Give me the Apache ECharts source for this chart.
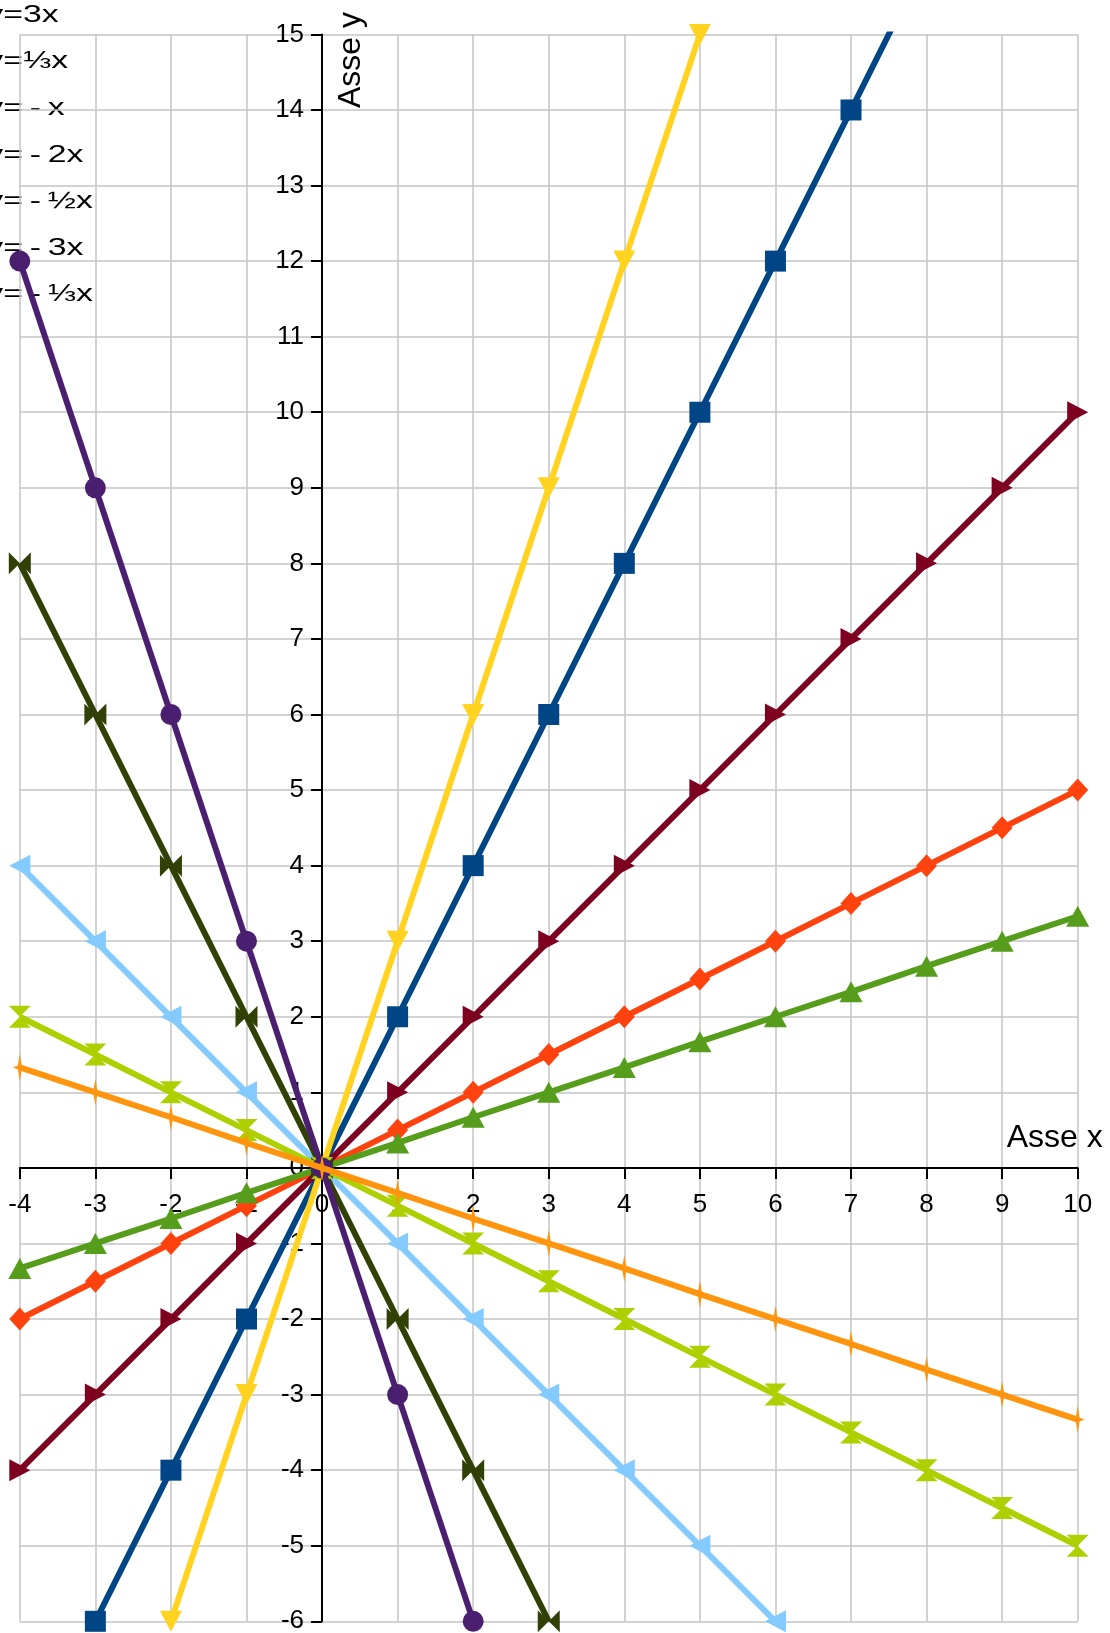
<!DOCTYPE html>
<html>
<head>
<meta charset="utf-8">
<style>
  html, body { margin: 0; padding: 0; background: #fff; }
  #container { width: 1110px; height: 1633px; }
</style>
<script src="https://cdn.jsdelivr.net/npm/echarts@6/dist/echarts.min.js"></script>
</head>
<body>
<div id="container"></div>
<script>
// x values shared by all the lines
var xValues = [-4, -3, -2, -1, 0, 1, 2, 3, 4, 5, 6, 7, 8, 9, 10];

// y values (null = not drawn)
var y2x      = [null, -6, -4, -2, 0, 2, 4, 6, 8, 10, 12, 14, 16, null, null];
var yHalfX   = [-2, -1.5, -1, -0.5, 0, 0.5, 1, 1.5, 2, 2.5, 3, 3.5, 4, 4.5, 5];
var y3x      = [null, null, -6, -3, 0, 3, 6, 9, 12, 15, null, null, null, null, null];
var yThirdX  = [-1.33, -1, -0.67, -0.33, 0, 0.33, 0.67, 1, 1.33, 1.67, 2, 2.33, 2.67, 3, 3.33];
var yX       = [-4, -3, -2, -1, 0, 1, 2, 3, 4, 5, 6, 7, 8, 9, 10];
var yNegX    = [4, 3, 2, 1, 0, -1, -2, -3, -4, -5, -6, null, null, null, null];
var yNeg2x   = [8, 6, 4, 2, 0, -2, -4, -6, null, null, null, null, null, null, null];
var yNegHalf = [2, 1.5, 1, 0.5, 0, -0.5, -1, -1.5, -2, -2.5, -3, -3.5, -4, -4.5, -5];
var yNeg3x   = [12, 9, 6, 3, 0, -3, -6, null, null, null, null, null, null, null, null];
var yNegThird = [1.33, 1, 0.67, 0.33, 0, -0.33, -0.67, -1, -1.33, -1.67, -2, -2.33, -2.67, -3, -3.33];

var seriesNames = ['y=2x', 'y=½x', 'y=3x', 'y=⅓x', 'y=x',
                   'y=\u2009-\u2009x', 'y=\u2009-\u20092x', 'y=\u2009-\u2009½x', 'y=\u2009-\u20093x', 'y=\u2009-\u2009⅓x'];
var seriesValues = [y2x, yHalfX, y3x, yThirdX, yX, yNegX, yNeg2x, yNegHalf, yNeg3x, yNegThird];

// legend entries visible at the left edge
var legendLabels = ['y=3x', 'y=⅓x', 'y=\u2009-\u2009x', 'y=\u2009-\u20092x',
                    'y=\u2009-\u2009½x', 'y=\u2009-\u20093x', 'y=\u2009-\u2009⅓x'];

// axis ranges
var xMin = -4, xMax = 10, yMin = -6, yMax = 15;

var colors = ['#004586', '#ff420e', '#ffd320', '#579d1c', '#7e0021',
              '#83caff', '#314004', '#aecf00', '#4b1f6f', '#ff950e'];

var symbols = [
    {symbol: 'rect', size: 21, rotate: 0},
    {symbol: 'diamond', size: [21, 23], rotate: 0},
    {symbol: 'triangle', size: [22, 21], rotate: 180},
    {symbol: 'triangle', size: [23, 21], rotate: 0},
    {symbol: 'triangle', size: [22, 21], rotate: -90},
    {symbol: 'triangle', size: [22, 21], rotate: 90},
    {symbol: 'path://M0,0L10,5L0,10ZM20,0L10,5L20,10Z', size: [22, 22], rotate: 0},
    {symbol: 'path://M0,0L20,0L10,10ZM0,20L20,20L10,10Z', size: [22, 22], rotate: 0},
    {symbol: 'circle', size: 21, rotate: 0},
    {symbol: 'path://M5,0L6.4,8.6L10,10L6.4,11.4L5,20L3.6,11.4L0,10L3.6,8.6Z', size: [14, 27], rotate: 0}
];

var FONT = 'Liberation Sans';

// plot box, in pixels
var GRID = {left: 19.8, right: 32.3, top: 34.4, bottom: 11.7};
var plotW = 1110 - GRID.left - GRID.right;
var plotH = 1633 - GRID.top - GRID.bottom;
// distance from the plot edges to the zero lines, so the axes cross at (0,0)
var xAxisShift = plotH * (0 - yMin) / (yMax - yMin);
var yAxisShift = plotW * (0 - xMin) / (xMax - xMin);

var dom = document.getElementById('container');
var myChart = echarts.init(dom, null, {renderer: 'canvas'});

var series = seriesNames.map(function (name, i) {
    var pts = [];
    xValues.forEach(function (x, j) {
        if (seriesValues[i][j] !== null) pts.push([x, seriesValues[i][j]]);
    });
    return {
        name: name,
        type: 'line',
        data: pts,
        clip: true,
        symbol: symbols[i].symbol,
        symbolSize: symbols[i].size,
        symbolRotate: symbols[i].rotate,
        showAllSymbol: true,
        lineStyle: {color: colors[i], width: 6},
        itemStyle: {color: colors[i], borderWidth: 0},
        emphasis: {disabled: true},
        z: 2 + i * 0.01
    };
});

// legend drawn as plain text, stretched wide like the original
var legendText = legendLabels.map(function (label, i) {
    return {
        type: 'text',
        x: -13.7,
        y: 23.3 + i * 46.65 - 8.5,
        scaleX: 1.38,
        scaleY: 1,
        silent: true,
        style: {
            text: label,
            fill: '#000',
            font: '24.5px "' + FONT + '"',
            align: 'left',
            verticalAlign: 'middle'
        }
    };
});

var option = {
    animation: false,
    backgroundColor: '#fff',
    grid: {
        left: GRID.left,
        right: GRID.right,
        top: GRID.top,
        bottom: GRID.bottom,
        containLabel: false,
        outerBoundsMode: 'none'
    },
    xAxis: {
        type: 'value',
        position: 'bottom',
        offset: -xAxisShift,
        min: xMin,
        max: xMax,
        interval: 1,
        name: 'Asse x',
        nameLocation: 'end',
        nameGap: 25,
        nameTextStyle: {
            color: '#000',
            fontFamily: FONT,
            fontSize: 32,
            align: 'right',
            verticalAlign: 'bottom',
            padding: [0, 0, 14, 0]
        },
        axisLine: {show: true, onZero: false, lineStyle: {color: '#000', width: 2}},
        axisTick: {show: true, length: 11, lineStyle: {color: '#000', width: 2}},
        axisLabel: {show: true, color: '#000', fontFamily: FONT, fontSize: 26, margin: 24},
        splitLine: {show: true, lineStyle: {color: '#c4c4c4', width: 1.5}}
    },
    yAxis: {
        type: 'value',
        position: 'left',
        offset: -yAxisShift,
        min: yMin,
        max: yMax,
        interval: 1,
        name: 'Asse y',
        nameLocation: 'end',
        nameGap: -73.6,
        nameRotate: 90,
        nameTextStyle: {
            color: '#000',
            fontFamily: FONT,
            fontSize: 32,
            align: 'left',
            verticalAlign: 'top',
            padding: [13, 0, 0, 0]
        },
        axisLine: {show: true, onZero: false, lineStyle: {color: '#000', width: 2}},
        axisTick: {show: true, length: 11, lineStyle: {color: '#000', width: 2}},
        axisLabel: {show: true, color: '#000', fontFamily: FONT, fontSize: 26, margin: 18},
        splitLine: {show: true, lineStyle: {color: '#c4c4c4', width: 1.5}}
    },
    graphic: legendText,
    series: series
};

myChart.setOption(option);
</script>
</body>
</html>
